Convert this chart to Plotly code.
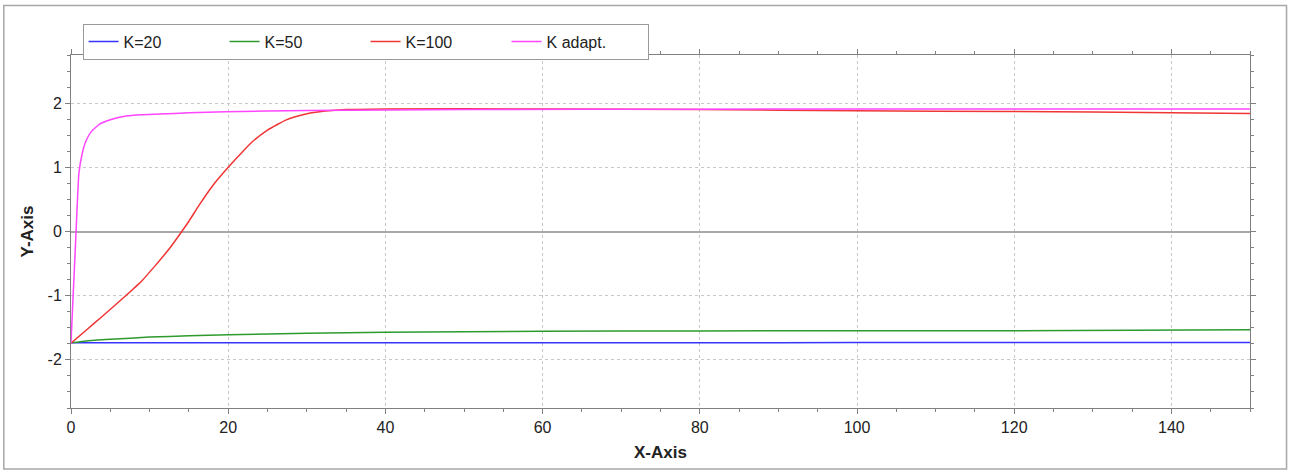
import plotly.graph_objects as go

# Data
x_k20 = [0, 20, 40, 60, 80, 100, 120, 140, 150]
y_k20 = [-1.735, -1.735, -1.735, -1.733, -1.732, -1.731, -1.73, -1.73, -1.73]

x_k50 = [0, 2, 5, 10, 15, 20, 30, 40, 60, 80, 100, 120, 135, 150]
y_k50 = [-1.735, -1.705, -1.68, -1.645, -1.625, -1.61, -1.585, -1.57, -1.555,
         -1.55, -1.545, -1.545, -1.54, -1.53]

x_k100 = [0, 2, 4, 6.6, 9, 10.8, 12.5, 13.8, 15, 16.3, 18, 20, 21.5, 23, 25,
          27.4, 29.5, 31.6, 35, 40, 60, 80, 100, 120, 140, 150]
y_k100 = [-1.74, -1.53, -1.32, -1.04, -0.77, -0.52, -0.27, -0.05, 0.16, 0.41,
          0.71, 1.0, 1.2, 1.39, 1.58, 1.74, 1.82, 1.865, 1.9, 1.91, 1.91, 1.9,
          1.88, 1.87, 1.85, 1.84]

x_kad = [0, 0.25, 0.5, 0.75, 1.0, 1.4, 1.9, 2.6, 3.6, 5, 7, 9, 11.3, 15, 19.7,
         30, 50, 80, 100, 150]
y_kad = [-1.74, -1.05, -0.4, 0.3, 0.9, 1.2, 1.41, 1.56, 1.67, 1.74, 1.80, 1.82,
         1.83, 1.85, 1.865, 1.885, 1.9, 1.905, 1.91, 1.91]

x_tickvals = [0, 20, 40, 60, 80, 100, 120, 140]
x_ticktext = ["0", "20", "40", "60", "80", "100", "120", "140"]
y_tickvals = [-2, -1, 0, 1, 2]
y_ticktext = ["-2", "-1", "0", "1", "2"]

series = [
    ("K=20", x_k20, y_k20, "#3535ff"),
    ("K=50", x_k50, y_k50, "#2e9a2e"),
    ("K=100", x_k100, y_k100, "#f03535"),
    ("K adapt.", x_kad, y_kad, "#ff45ff"),
]

FONT = "Liberation Sans, Arial, sans-serif"

fig = go.Figure()
for name, xs, ys, col in series:
    fig.add_trace(go.Scatter(x=xs, y=ys, name=name, mode="lines",
                             line=dict(color=col, width=1.5, shape="spline",
                                       smoothing=0.4)))

axis_common = dict(
    showline=True, linecolor="#808080", linewidth=1, mirror="ticks",
    ticks="outside", ticklen=5, tickcolor="#808080",
    showgrid=True, gridcolor="#c8c8c8", griddash="dot", gridwidth=1,
    tickfont=dict(family=FONT, size=16, color="#222"),
    zeroline=False,
)

fig.update_xaxes(range=[0, 150], tickmode="array", tickvals=x_tickvals,
                 ticktext=x_ticktext,
                 minor=dict(dtick=5, tick0=0, ticks="outside", ticklen=3,
                            tickcolor="#808080", showgrid=False),
                 title=dict(text="<b>X-Axis</b>", standoff=10,
                            font=dict(family=FONT, size=17, color="#222")),
                 **axis_common)
fig.update_yaxes(range=[-2.75, 2.75], tickmode="array", tickvals=y_tickvals,
                 ticktext=y_ticktext,
                 minor=dict(dtick=0.25, tick0=0, ticks="outside", ticklen=3,
                            tickcolor="#808080", showgrid=False),
                 title=dict(text="<b>Y-Axis</b>", standoff=9,
                            font=dict(family=FONT, size=17, color="#222")),
                 **axis_common)
fig.update_yaxes(zeroline=True, zerolinecolor="#a8a8a8", zerolinewidth=1.5)

fig.add_shape(type="rect", xref="paper", yref="paper",
              x0=-0.057, x1=1.031, y0=-0.173, y1=1.14,
              line=dict(color="#a8a8a8", width=1.5), layer="below")

fig.update_layout(
    width=1290, height=473,
    margin=dict(l=71, r=40, t=55, b=65, autoexpand=False),
    plot_bgcolor="white", paper_bgcolor="white",
    font=dict(family=FONT, size=16, color="#222"),
    legend=dict(orientation="h", xref="container", yref="container",
                x=0.064, y=0.95, xanchor="left", yanchor="top",
                bordercolor="#999", borderwidth=1, bgcolor="white",
                entrywidth=96, entrywidthmode="pixels",
                font=dict(family=FONT, size=16, color="#222"),
                itemwidth=30, tracegroupgap=0),
    showlegend=True,
)

fig.write_html("out.html")
